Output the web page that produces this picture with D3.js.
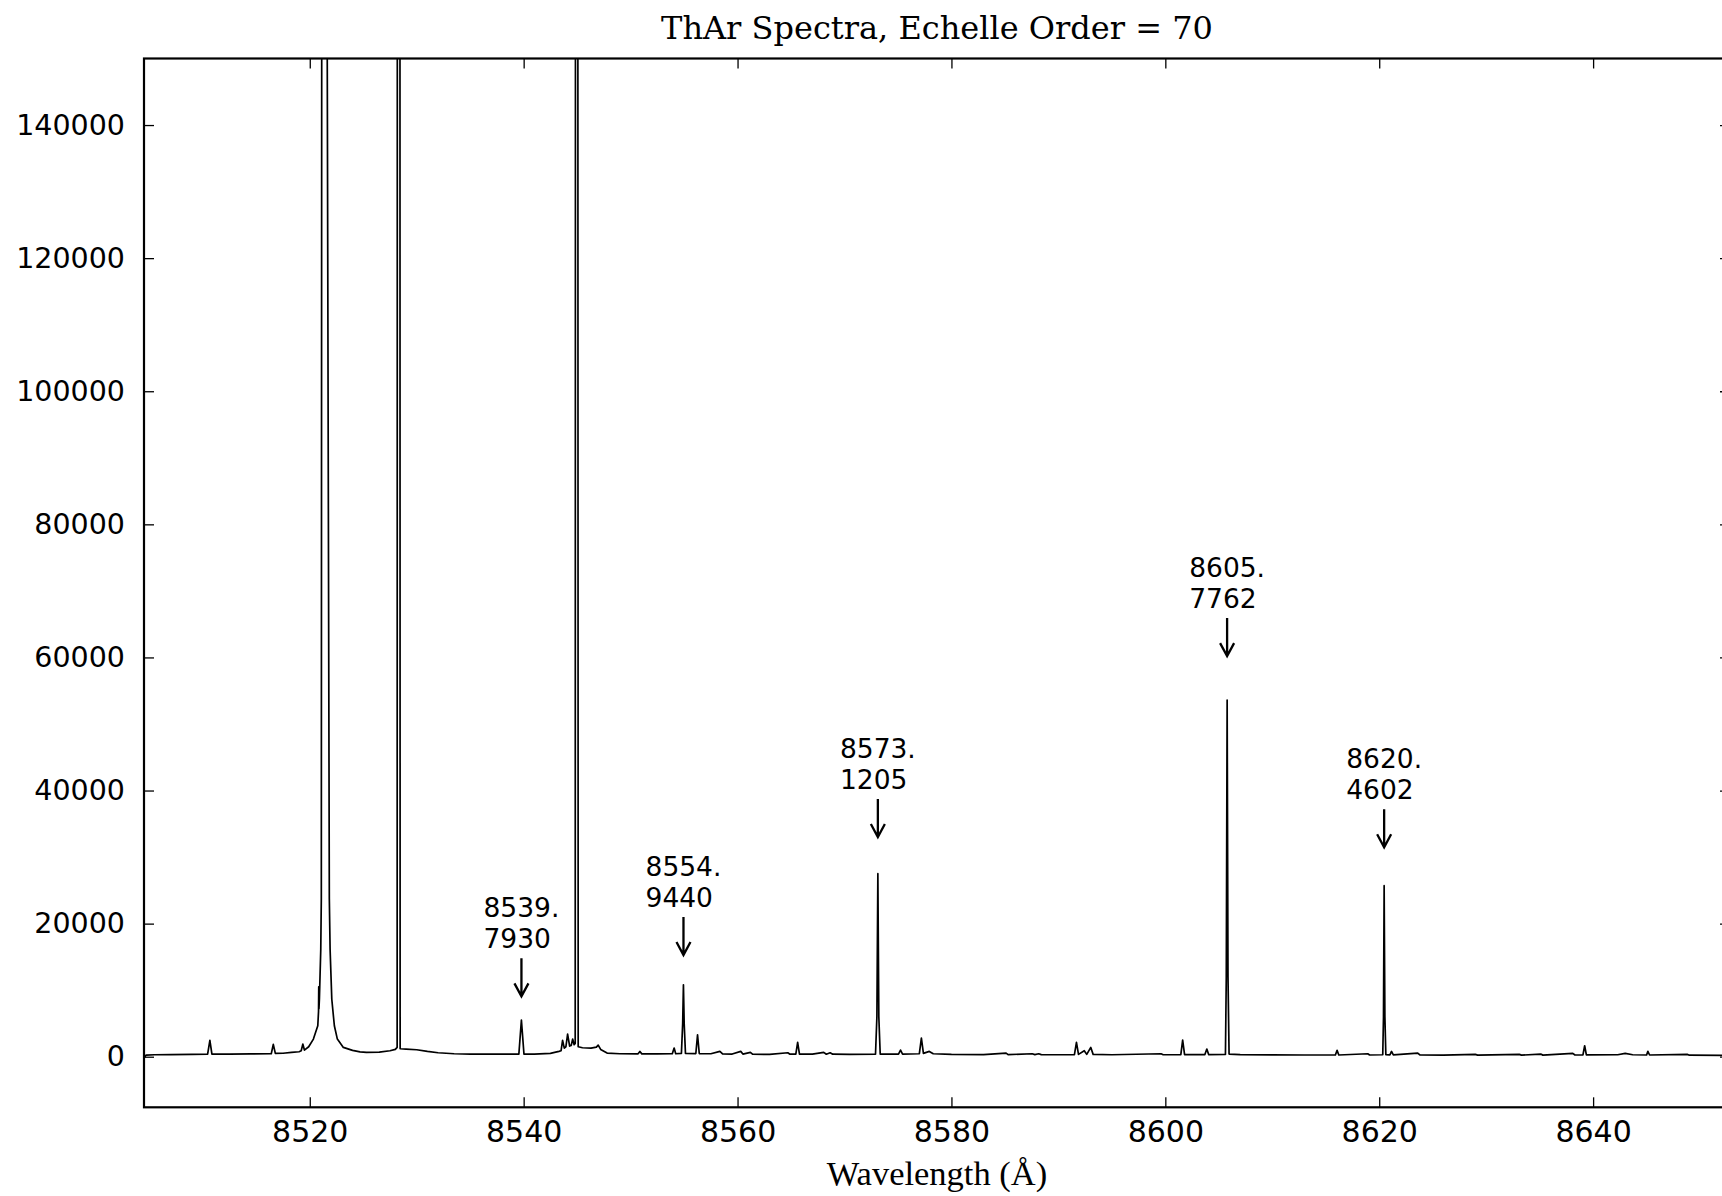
<!DOCTYPE html>
<html>
<head>
<meta charset="utf-8">
<script src="https://cdn.jsdelivr.net/npm/d3@7"></script>
<style>
    body { margin: 0; background: #fff; }
    svg { display: block; }
    .chart-title { font-family: "DejaVu Serif", serif; font-size: 32px; text-anchor: middle; }
    .title.x { font-family: "Liberation Serif", serif; font-size: 34.5px; text-anchor: middle; }
    .axis text { font-family: "DejaVu Sans", sans-serif; font-size: 30px; fill: #000; }
    .axis.y text { font-size: 28.5px; }
    .axis path { display: none; }
    .axis line { stroke: #000; stroke-width: 1.3px; }
    .anno text { font-family: "DejaVu Sans", sans-serif; font-size: 26.5px; }
    .anno path { fill: none; stroke: #000; stroke-width: 2.3px; }
    .spectrum { fill: none; stroke: #000; stroke-width: 1.7px; stroke-linejoin: round; }
</style>
</head>
<body>
<div id="vis"></div>
<script>
// tick values
var xTicks = [8520, 8540, 8560, 8580, 8600, 8620, 8640];
var yTicks = [0, 20000, 40000, 60000, 80000, 100000, 120000, 140000];

// ThAr spectrum (wavelength in A, counts)
var specWave = [
    8504.5, 8504.7, 8505.5, 8507.0, 8509.0, 8510.45, 8510.66, 8510.85, 8512.5, 8514.5,
    8516.40, 8516.59, 8516.78, 8517.5, 8518.3, 8519.0, 8519.2, 8519.35, 8519.5, 8519.9,
    8520.34, 8520.75, 8520.82, 8520.84, 8520.86, 8520.90, 8521.03, 8521.08, 8521.12, 8521.37,
    8521.62, 8521.83, 8521.90, 8522.06, 8522.30, 8522.58, 8523.14, 8524.0, 8524.7, 8525.3,
    8526.5, 8527.5, 8528.0, 8528.17, 8528.21, 8528.31, 8528.41, 8528.45, 8529.0, 8530.0,
    8531.0, 8532.0, 8533.5, 8535.0, 8537.0, 8539.55, 8539.79, 8540.03, 8541.0, 8542.5,
    8543.3, 8543.50, 8543.64, 8543.80, 8543.95, 8544.11, 8544.30, 8544.45, 8544.58, 8544.72,
    8544.82, 8544.88, 8544.95, 8545.02, 8545.10, 8545.5, 8546.3, 8546.8, 8546.97, 8547.2,
    8547.8, 8549.0, 8550.7, 8550.87, 8551.05, 8552.5, 8553.9, 8554.07, 8554.22, 8554.75,
    8554.87, 8554.94, 8555.01, 8555.13, 8556.1, 8556.26, 8556.42, 8557.5, 8558.35, 8558.6,
    8559.5, 8560.3, 8560.5, 8561.2, 8561.4, 8563.0, 8564.7, 8564.9, 8565.45, 8565.62,
    8565.79, 8567.0, 8568.06, 8568.3, 8568.66, 8568.9, 8570.5, 8572.9, 8573.03, 8573.12,
    8573.21, 8573.34, 8575.05, 8575.24, 8575.43, 8577.0, 8577.19, 8577.38, 8577.93, 8578.3,
    8580.0, 8583.0, 8585.11, 8585.3, 8587.55, 8587.8, 8588.16, 8588.4, 8590.0, 8591.5,
    8591.69, 8591.88, 8592.42, 8592.65, 8593.03, 8593.25, 8595.0, 8599.6, 8599.8, 8601.45,
    8601.62, 8601.80, 8603.7, 8603.88, 8604.05, 8605.62, 8605.70, 8605.78, 8605.86, 8605.96,
    8607.0, 8610.0, 8613.0, 8615.9, 8616.06, 8616.22, 8618.93, 8619.1, 8620.33, 8620.40,
    8620.46, 8620.53, 8620.62, 8621.0, 8621.15, 8621.32, 8623.6, 8623.8, 8626.0, 8628.98,
    8629.2, 8633.1, 8633.3, 8635.1, 8635.3, 8638.1, 8638.3, 8639.05, 8639.21, 8639.37,
    8642.3, 8643.0, 8643.7, 8645.0, 8645.12, 8645.28, 8648.8, 8649.0, 8652.8
];
var specFlux = [
    -200, 250, 300, 320, 350, 380, 2450, 380, 400, 420,
    450, 1850, 500, 520, 650, 750, 900, 1900, 1000, 1500,
    2650, 4650, 6800, 10500, 7200, 8630, 16180, 23700, 160000, 900000,
    160000, 23700, 16180, 8630, 4650, 2650, 1400, 950, 740, 650,
    700, 900, 1100, 1400, 400000, 900000, 400000, 1200, 1150, 1050,
    800, 600, 450, 400, 380, 380, 5500, 380, 400, 500,
    800, 900, 2450, 1300, 1500, 3400, 1600, 1700, 2650, 1800,
    2000, 400000, 900000, 400000, 1500, 1350, 1300, 1450, 1750, 1100,
    550, 450, 430, 800, 430, 420, 450, 1300, 450, 500,
    5000, 10800, 5000, 500, 480, 3300, 480, 450, 800, 420,
    400, 800, 400, 650, 380, 350, 600, 380, 400, 2150,
    400, 380, 650, 380, 600, 380, 350, 380, 6000, 27500,
    6000, 380, 400, 1000, 400, 450, 2800, 500, 800, 450,
    350, 320, 550, 320, 450, 320, 450, 320, 300, 320,
    2150, 350, 900, 350, 1400, 350, 300, 450, 300, 320,
    2500, 320, 320, 1150, 320, 350, 12000, 53600, 12000, 400,
    320, 280, 260, 260, 950, 260, 450, 260, 300, 6000,
    25700, 6000, 300, 280, 800, 280, 550, 260, 240, 350,
    240, 350, 240, 400, 240, 500, 260, 280, 1650, 280,
    300, 500, 300, 260, 800, 260, 350, 230, 200
];

// identified lines and where their arrows point
var annoWave = [8539.7930, 8554.9440, 8573.1205, 8605.7762, 8620.4602];
var annoTip = [9070, 15280, 33020, 60200, 31470];

var width = 1722,
    height = 1196,
    margin = {
        left: 144,
        top: 58.5,
        right: -8,    // right spine sits just past the window edge
        bottom: 88.7
    };
var chartWidth = width - margin.left - margin.right;
var chartHeight = height - margin.top - margin.bottom;

var xScale = d3.scaleLinear()
    .domain([8504.5, 8652.8])
    .range([0, chartWidth]);
var yScale = d3.scaleLinear()
    .domain([-7600, 150000])
    .range([chartHeight, 0]);

var svg = d3.select('#vis').append('svg')
    .attr('width', width)
    .attr('height', height);

svg.append('defs').append('clipPath')
    .attr('id', 'plotClip')
    .append('rect')
    .attr('width', chartWidth)
    .attr('height', chartHeight);

svg.append('text')
    .attr('class', 'chart-title')
    .attr('x', margin.left + chartWidth / 2)
    .attr('y', 39)
    .text('ThAr Spectra, Echelle Order = 70');

var chartG = svg.append('g')
    .attr('transform', 'translate(' + margin.left + ',' + margin.top + ')');

// spectrum line
var points = specWave.map(function(w, i) {
    return [w, specFlux[i]];
});
var line = d3.line()
    .x(function(d) { return xScale(d[0]); })
    .y(function(d) { return yScale(d[1]); });

chartG.append('path')
    .datum(points)
    .attr('class', 'spectrum')
    .attr('clip-path', 'url(#plotClip)')
    .attr('d', line);

// axes, ticks pointing inward on all four sides
var fmt = d3.format('d');
chartG.append('g')
    .attr('class', 'axis x')
    .attr('transform', 'translate(0,' + chartHeight + ')')
    .call(d3.axisBottom(xScale).tickValues(xTicks).tickFormat(fmt).tickSize(-10).tickPadding(13));
chartG.append('g')
    .attr('class', 'axis x2')
    .call(d3.axisTop(xScale).tickValues(xTicks).tickFormat('').tickSize(-10));
chartG.append('g')
    .attr('class', 'axis y')
    .call(d3.axisLeft(yScale).tickValues(yTicks).tickFormat(fmt).tickSize(-10).tickPadding(19));
chartG.append('g')
    .attr('class', 'axis y2')
    .attr('transform', 'translate(' + chartWidth + ',0)')
    .call(d3.axisRight(yScale).tickValues(yTicks).tickFormat('').tickSize(-10));

chartG.selectAll('.axis text').attr('fill', '#000');

// frame
chartG.append('rect')
    .attr('width', chartWidth)
    .attr('height', chartHeight)
    .attr('fill', 'none')
    .attr('stroke', '#000')
    .attr('stroke-width', 2.2);

// annotations: two-line label over a down arrow
var anno = chartG.selectAll('.anno')
    .data(annoWave.map(function(w, i) { return { wave: w, tip: annoTip[i] }; }))
    .enter().append('g')
    .attr('class', 'anno')
    .attr('transform', function(d) {
        return 'translate(' + xScale(d.wave) + ',' + yScale(d.tip) + ')';
    });

anno.append('path')
    .attr('d', 'M0,-38L0,-1M-7,-13L0,0L7,-13');

anno.each(function(d) {
    var g = d3.select(this);
    var parts = d.wave.toFixed(4).split('.');
    var t1 = g.append('text').attr('y', -79).text(parts[0] + '.');
    var t2 = g.append('text').attr('y', -48).text(parts[1]);
    var w = t1.node().getComputedTextLength();
    t1.attr('x', -w / 2);
    t2.attr('x', -w / 2);
});

svg.append('text')
    .attr('class', 'title x')
    .attr('x', margin.left + chartWidth / 2)
    .attr('y', 1185)
    .text('Wavelength (\u00c5)');
</script>
</body>
</html>
